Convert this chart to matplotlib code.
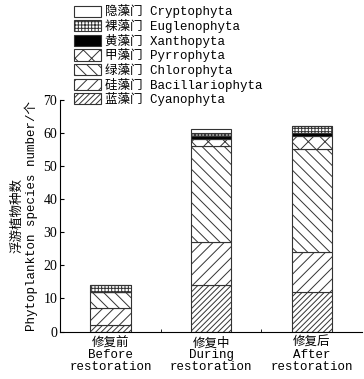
import numpy as np
import matplotlib.pyplot as plt
from matplotlib.ticker import FixedLocator

plt.rcParams['font.family'] = ['Liberation Mono', 'Noto Sans CJK SC']
plt.rcParams['hatch.linewidth'] = 0.7

stages = ["修复前\nBefore\nrestoration", "修复中\nDuring\nrestoration", "修复后\nAfter\nrestoration"]
phyla = ["蓝藻门 Cyanophyta", "硅藻门 Bacillariophyta", "绿藻门 Chlorophyta",
         "甲藻门 Pyrrophyta", "黄藻门 Xanthopyta", "裸藻门 Euglenophyta", "隐藻门 Cryptophyta"]
cyano = [2, 14, 12]
bacill = [5, 13, 12]
chloro = [5, 29, 31]
pyrro = [0, 2, 4]
xantho = [0, 1, 1]
eugleno = [2, 1, 2]
crypto = [0, 1, 0]
series = [cyano, bacill, chloro, pyrro, xantho, eugleno, crypto]

hatches = ["//////", "///", "\\\\\\", "xx", "", "+++++", ""]
faces = ["white", "white", "white", "white", "black", "white", "white"]

fig = plt.figure(figsize=(3.64, 3.79), dpi=100)
ax = fig.add_axes([0.165, 0.125, 0.83, 0.612])

x = np.arange(1, len(stages) + 1)
bottom = np.zeros(len(stages))
handles = []
for vals, h, fc, lab in zip(series, hatches, faces, phyla):
    b = ax.bar(x, vals, 0.4, bottom=bottom, color=fc, hatch=h,
               edgecolor="#333333", linewidth=0.8, label=lab)
    bottom += np.array(vals)
    handles.append(b)

ax.set_xlim(0.5, 3.5)
ax.set_ylim(0, 70)
ax.set_yticks(range(0, 71, 10))
ax.set_yticklabels([str(v) for v in range(0, 71, 10)], family='Liberation Serif', fontsize=10)
ax.tick_params(axis='y', direction='in', length=3, pad=2)
ax.set_xticks(x)
ax.set_xticklabels(stages, fontsize=9, linespacing=1.0)
ax.tick_params(axis='x', length=0, pad=4)
ax.xaxis.set_minor_locator(FixedLocator([1.5, 2.5]))
ax.tick_params(axis='x', which='minor', direction='in', length=2)
for s in ["top", "right"]:
    ax.spines[s].set_visible(False)

ax.set_ylabel("浮游植物种数\nPhytoplankton species number/个", fontsize=9, linespacing=1.1)

ax.legend(handles[::-1], phyla[::-1], loc='lower left', bbox_to_anchor=(0.045, 0.972),
          frameon=False, fontsize=9, handlelength=2.2, handleheight=1.0,
          labelspacing=0.05, handletextpad=0.3, borderaxespad=0, borderpad=0)

fig.savefig("out.png", dpi=100)
